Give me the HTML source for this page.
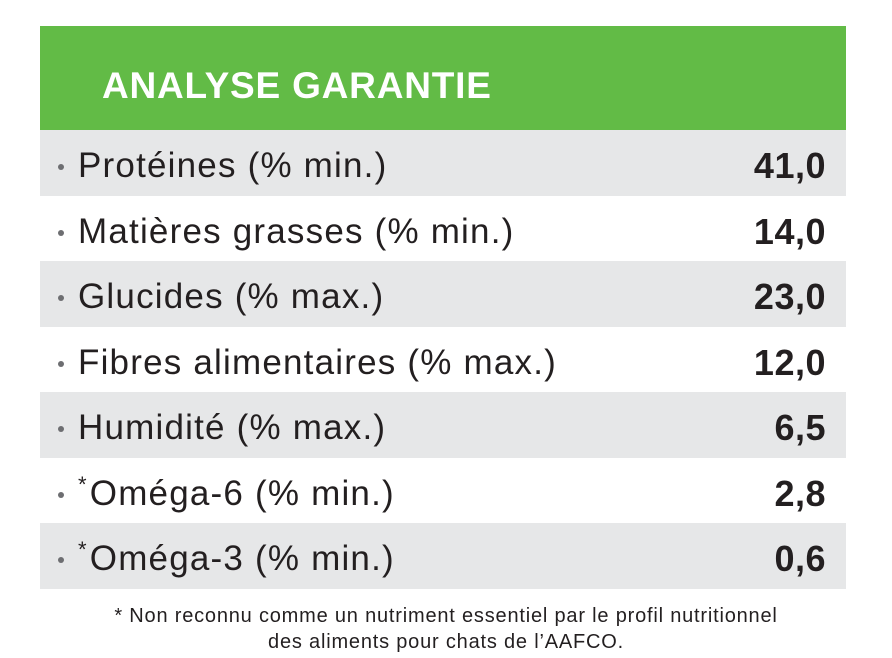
<!DOCTYPE html>
<html><head><meta charset="utf-8"><style>
body{margin:0;width:892px;height:658px;background:#fff;font-family:"Liberation Sans",sans-serif;color:#231f20;position:relative;overflow:hidden}
.hd{position:absolute;left:40px;top:26px;width:806px;height:104px;background:#62bb46}
.hd span{position:absolute;left:62px;top:39px;font-size:37px;font-weight:bold;color:#fff;letter-spacing:0.8px}
.r{position:absolute;left:40px;width:806px;height:65.5px}
.g{background:#e6e7e8}
.l{position:absolute;left:38px;top:16px;font-size:35px;letter-spacing:1.2px;white-space:nowrap}
.b{position:absolute;left:18px;top:34px;width:6px;height:6px;border-radius:50%;background:#6d6e71}
.v{position:absolute;right:20px;top:15px;font-size:36px;font-weight:bold;letter-spacing:0.5px}
.s{font-size:22px;vertical-align:top;position:relative;top:-2px;margin-right:2px}
.f{position:absolute;left:0;width:892px;text-align:center;font-size:20px;letter-spacing:0.8px;line-height:26px;top:603px}
</style></head><body>
<div class="hd"><span>ANALYSE GARANTIE</span></div>
<div class="r g" style="top:130px"><i class="b"></i><div class="l">Protéines (% min.)</div><div class="v">41,0</div></div>
<div class="r" style="top:195.5px"><i class="b"></i><div class="l">Matières grasses (% min.)</div><div class="v">14,0</div></div>
<div class="r g" style="top:261px"><i class="b"></i><div class="l">Glucides (% max.)</div><div class="v">23,0</div></div>
<div class="r" style="top:326.5px"><i class="b"></i><div class="l">Fibres alimentaires (% max.)</div><div class="v">12,0</div></div>
<div class="r g" style="top:392px"><i class="b"></i><div class="l">Humidité (% max.)</div><div class="v">6,5</div></div>
<div class="r" style="top:457.5px"><i class="b"></i><div class="l"><span class="s">*</span>Oméga-6 (% min.)</div><div class="v">2,8</div></div>
<div class="r g" style="top:523px"><i class="b"></i><div class="l"><span class="s">*</span>Oméga-3 (% min.)</div><div class="v">0,6</div></div>
<div class="f">* Non reconnu comme un nutriment essentiel par le profil nutritionnel<br>des aliments pour chats de l’AAFCO.</div>
</body></html>
